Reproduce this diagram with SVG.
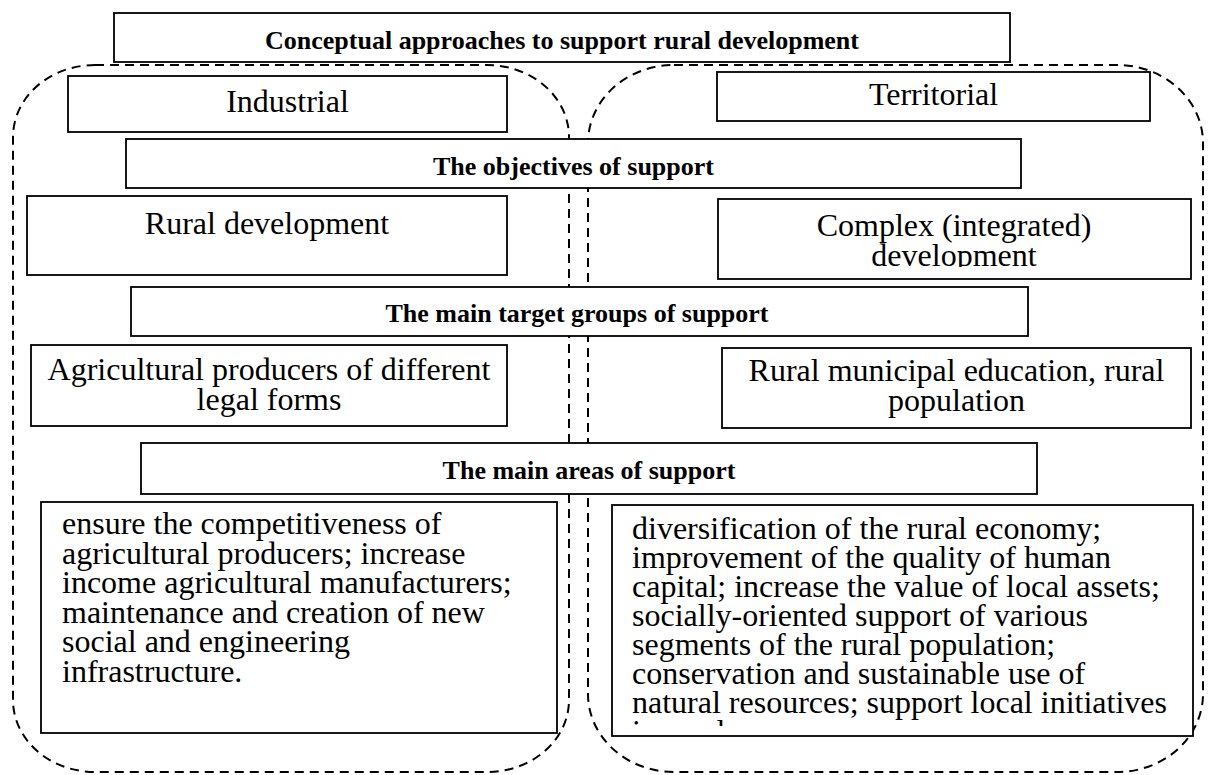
<svg xmlns="http://www.w3.org/2000/svg" width="1208" height="775" viewBox="0 0 1208 775">
<style>
.bg{fill:#fff}
.box{fill:#fff;stroke:#000;stroke-width:1.8}
.dash{fill:none;stroke:#000;stroke-width:2;stroke-dasharray:9 6}
.t{font-family:"Liberation Serif","Times New Roman",serif;font-size:32px;fill:#000}
.b{font-family:"Liberation Serif","Times New Roman",serif;font-size:26px;font-weight:bold;fill:#000}
.c{text-anchor:middle}
</style>
<defs>
<clipPath id="clipComplex"><rect x="718" y="198" width="473" height="69"/></clipPath>
<clipPath id="clipRight"><rect x="612" y="505" width="581" height="221"/></clipPath>
</defs>
<rect class="bg" x="0" y="0" width="1208" height="775"/>
<g id="connectors">
<rect class="dash" x="13" y="65" width="556" height="707" rx="82" ry="72"/>
<rect class="dash" x="588" y="65" width="615" height="707" rx="86" ry="78"/>
</g>
<g id="title">
<rect class="box" x="114" y="13" width="896" height="49"/>
<text class="b c" x="562" y="49">Conceptual approaches to support rural development</text>
</g>
<g id="industrial">
<rect class="box" x="68" y="76" width="439" height="56"/>
<text class="t c" x="287.5" y="112">Industrial</text>
</g>
<g id="territorial">
<rect class="box" x="717" y="72" width="433" height="49"/>
<text class="t c" x="933.5" y="104.5">Territorial</text>
</g>
<g id="objectives">
<rect class="box" x="126" y="139" width="895" height="49"/>
<text class="b c" x="573.5" y="175">The objectives of support</text>
</g>
<g id="rural-development">
<rect class="box" x="27" y="196" width="480" height="79"/>
<text class="t c" x="267" y="234">Rural development</text>
</g>
<g id="complex-development">
<rect class="box" x="718" y="199" width="473" height="80"/>
<g clip-path="url(#clipComplex)">
<text class="t c" x="954" y="236">Complex (integrated)</text>
<text class="t c" x="954" y="266">development</text>
</g>
</g>
<g id="target-groups">
<rect class="box" x="131" y="287" width="897" height="49"/>
<text class="b c" x="577" y="322">The main target groups of support</text>
</g>
<g id="agricultural-producers">
<rect class="box" x="31" y="345" width="476" height="81"/>
<text class="t c" x="269" y="380">Agricultural producers of different</text>
<text class="t c" x="269" y="410">legal forms</text>
</g>
<g id="rural-municipal">
<rect class="box" x="722" y="348" width="469" height="80"/>
<text class="t c" x="956.5" y="381">Rural municipal education, rural</text>
<text class="t c" x="956.5" y="411">population</text>
</g>
<g id="main-areas">
<rect class="box" x="141" y="443" width="896" height="51"/>
<text class="b c" x="589" y="479">The main areas of support</text>
</g>
<g id="industrial-areas">
<rect class="box" x="41" y="502" width="516" height="231"/>
<text class="t" x="62" y="534">ensure the competitiveness of</text>
<text class="t" x="62" y="563.6">agricultural producers; increase</text>
<text class="t" x="62" y="593.2">income agricultural manufacturers;</text>
<text class="t" x="62" y="622.8">maintenance and creation of new</text>
<text class="t" x="62" y="652.4">social and engineering</text>
<text class="t" x="62" y="682">infrastructure.</text>
</g>
<g id="territorial-areas">
<rect class="box" x="612" y="505" width="581" height="231"/>
<g clip-path="url(#clipRight)">
<text class="t" x="632" y="539">diversification of the rural economy;</text>
<text class="t" x="632" y="568">improvement of the quality of human</text>
<text class="t" x="632" y="597">capital; increase the value of local assets;</text>
<text class="t" x="632" y="626">socially-oriented support of various</text>
<text class="t" x="632" y="655">segments of the rural population;</text>
<text class="t" x="632" y="684">conservation and sustainable use of</text>
<text class="t" x="632" y="713">natural resources; support local initiatives</text>
<text class="t" x="632" y="742">in rural areas</text>
</g>
</g>
</svg>
